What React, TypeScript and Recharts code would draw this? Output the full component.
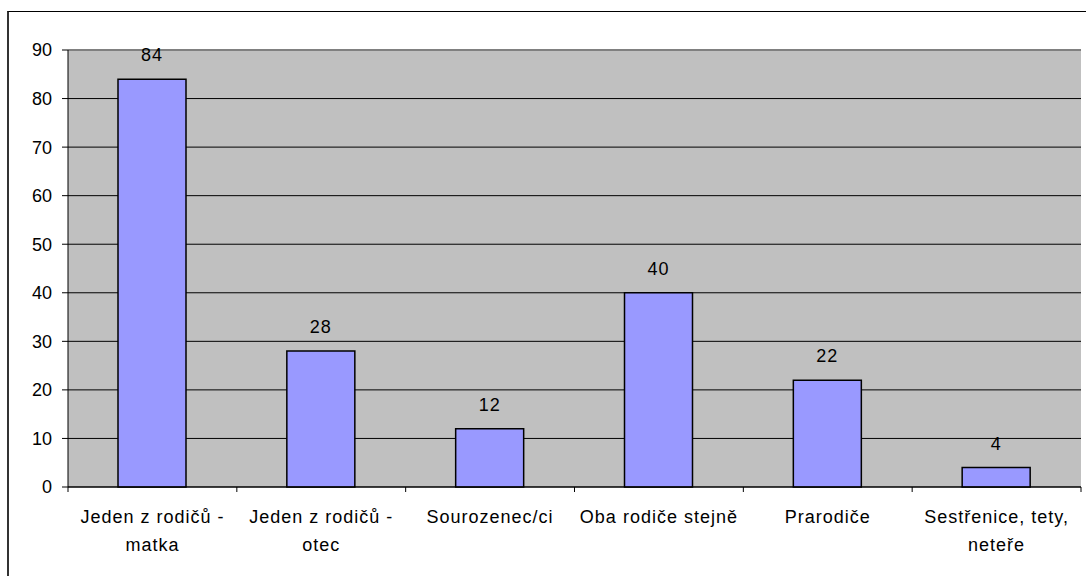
import React from "react";
import {
  BarChart,
  Bar,
  XAxis,
  YAxis,
  CartesianGrid,
  ReferenceLine,
  LabelList,
} from "recharts";

const categories = [
  "Jeden z rodičů - matka",
  "Jeden z rodičů - otec",
  "Sourozenec/ci",
  "Oba rodiče stejně",
  "Prarodiče",
  "Sestřenice, tety, neteře",
];
const values = [84, 28, 12, 40, 22, 4];
const yTicks = [0, 10, 20, 30, 40, 50, 60, 70, 80, 90];

const data = categories.map((name, i) => ({ name, value: values[i] }));

const FONT = '"Liberation Sans", Arial, sans-serif';
const CHART_W = 1086;
const CHART_H = 576;
const MARGIN = { top: 50, right: 5, bottom: 29, left: 0 };
const Y_AXIS_W = 68;
const PLOT_W = CHART_W - MARGIN.left - MARGIN.right - Y_AXIS_W;
const BAND = PLOT_W / categories.length;

// greedy wrap, roughly like the excel label wrapping
function wrap(text: string, maxChars: number) {
  const words = text.split(" ");
  const lines: string[] = [];
  let cur = "";
  for (const w of words) {
    const next = cur ? cur + " " + w : w;
    if (next.length > maxChars && cur) {
      lines.push(cur);
      cur = w;
    } else {
      cur = next;
    }
  }
  if (cur) lines.push(cur);
  return lines;
}

function CategoryTick(props: any) {
  const { x, y, payload, index } = props;
  const lines = wrap(String(payload.value), 17);
  const last = index === categories.length - 1;
  return (
    <g>
      <line x1={x - BAND / 2} x2={x - BAND / 2} y1={y} y2={y + 5} stroke="#000" />
      {last && (
        <line x1={x + BAND / 2} x2={x + BAND / 2} y1={y} y2={y + 5} stroke="#000" />
      )}
      <text
        x={x}
        y={y + 36}
        textAnchor="middle"
        fill="#000"
        style={{ fontSize: 18, fontFamily: FONT, letterSpacing: 1 }}
      >
        {lines.map((l, i) => (
          <tspan key={i} x={x} dy={i === 0 ? 0 : 28}>
            {l}
          </tspan>
        ))}
      </text>
    </g>
  );
}

export default function App() {
  return (
    <div
      style={{
        position: "absolute",
        left: 0,
        top: 0,
        width: CHART_W,
        height: CHART_H,
        overflow: "hidden",
        background: "#fff",
      }}
    >
      <div
        style={{
          position: "absolute",
          left: 7,
          top: 11,
          width: 1200,
          height: 700,
          borderTop: "1px solid #000",
          borderLeft: "2px solid #333",
        }}
      />
      <div style={{ position: "absolute", left: 0, top: 0 }}>
        <BarChart width={CHART_W} height={CHART_H} data={data} margin={MARGIN}>
          <CartesianGrid
            yAxisId="left"
            vertical={false}
            stroke="#000"
            fill="#C0C0C0"
            fillOpacity={1}
          />
          <XAxis
            dataKey="name"
            height={60}
            tickSize={0}
            tickMargin={0}
            tickLine={false}
            axisLine={{ stroke: "#000", strokeWidth: 1 }}
            interval={0}
            tick={<CategoryTick />}
          />
          <YAxis
            yAxisId="left"
            width={Y_AXIS_W}
            domain={[0, 90]}
            ticks={yTicks}
            interval={0}
            tickSize={6}
            tickMargin={10}
            axisLine={{ stroke: "#000" }}
            tickLine={{ stroke: "#000" }}
            tick={{ fontSize: 18, fill: "#000", fontFamily: FONT }}
          />
          <YAxis
            yAxisId="right"
            orientation="right"
            width={0}
            domain={[0, 90]}
            tick={false}
            tickLine={false}
            axisLine={{ stroke: "#808080", strokeWidth: 2 }}
          />
          <ReferenceLine yAxisId="left" y={90} stroke="#808080" strokeWidth={2} />
          <Bar
            yAxisId="left"
            dataKey="value"
            fill="#9999FF"
            stroke="#000"
            strokeWidth={1.5}
            barSize={68}
            isAnimationActive={false}
          >
            <LabelList
              dataKey="value"
              position="top"
              offset={18}
              fill="#000"
              style={{ fontSize: 18, fontFamily: FONT, letterSpacing: 1 }}
            />
          </Bar>
        </BarChart>
      </div>
    </div>
  );
}
